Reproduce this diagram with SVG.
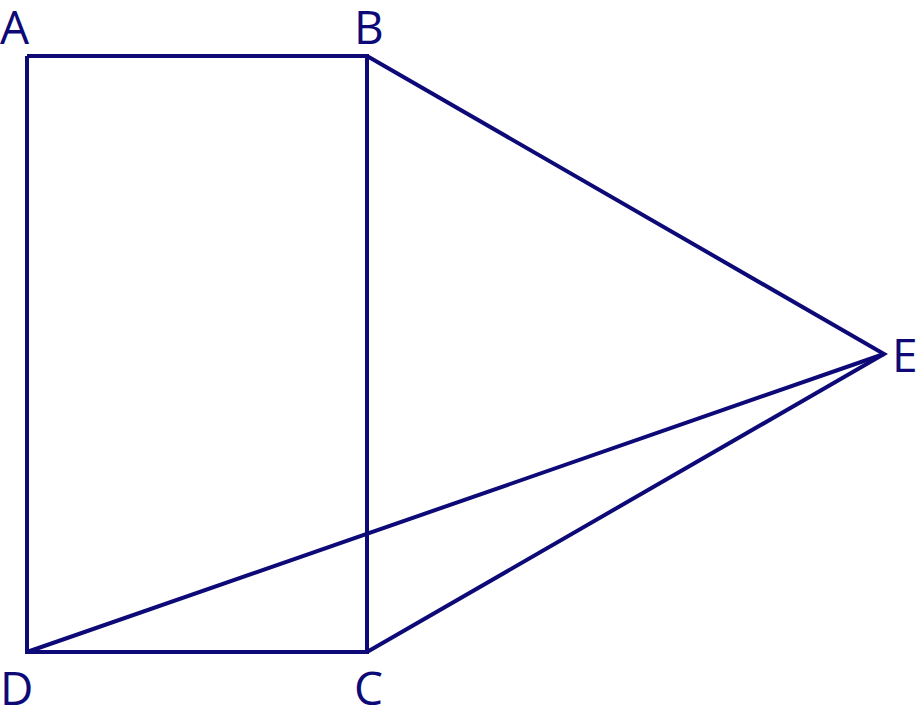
<svg xmlns="http://www.w3.org/2000/svg" width="917" height="720" viewBox="0 0 917 720">
<style>
.l{stroke:#0d0a78;stroke-width:4;fill:none;stroke-linejoin:miter}
.t{font-family:"Open Sans","Noto Sans",sans-serif;font-size:46px;fill:#0d0a78}
</style>
<rect width="917" height="720" fill="#fff"/>
<g id="connectors">
<polyline class="l" points="27,56 367,56 367,652 27,652 27,56"/>
<polyline class="l" points="367,56 884,354 367,652"/>
<line class="l" x1="27" y1="652" x2="884" y2="354"/>
</g>
<g id="A"><text class="t" x="0" y="44">A</text></g>
<g id="B"><text class="t" x="354" y="44">B</text></g>
<g id="C"><text class="t" x="354" y="705">C</text></g>
<g id="D"><text class="t" x="0" y="705">D</text></g>
<g id="E"><text class="t" x="892" y="372">E</text></g>
</svg>
